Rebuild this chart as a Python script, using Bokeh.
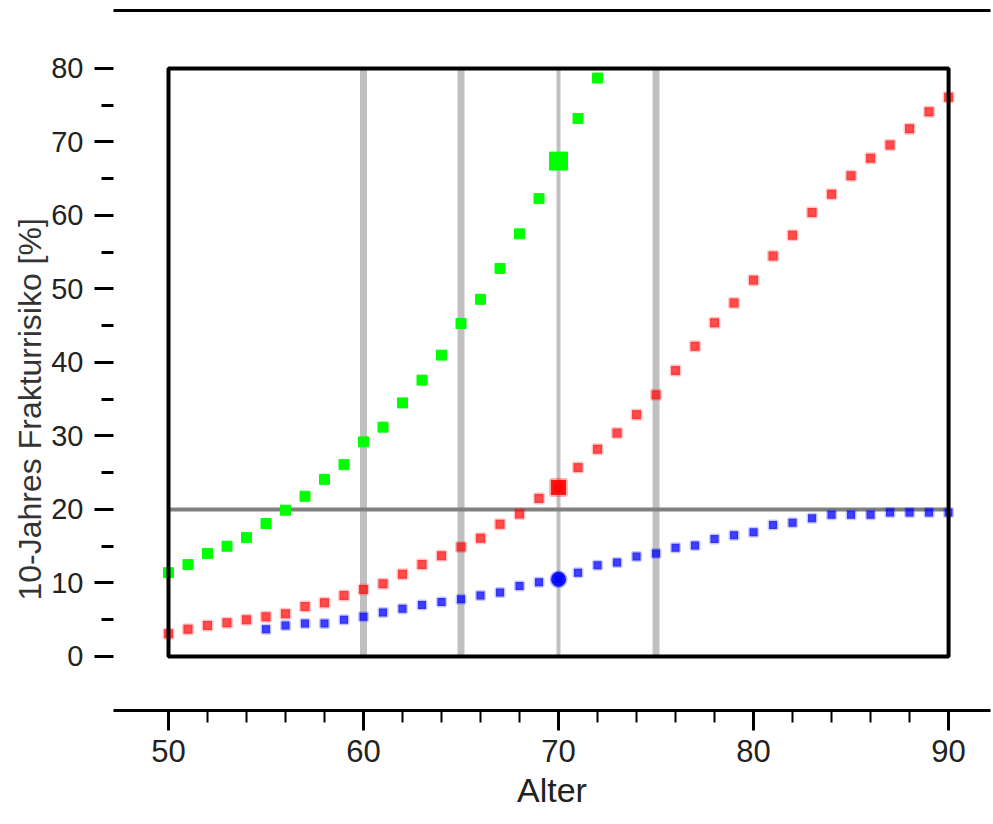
from bokeh.plotting import figure
from bokeh.models import Range1d, LinearAxis, FixedTicker, BoxAnnotation, Title
from bokeh.embed import file_html
from bokeh.resources import INLINE

# ---------------- data ----------------
ages_green = list(range(50, 73))
risk_green = [11.4, 12.5, 14.0, 15.0, 16.2, 18.1, 19.9, 21.8, 24.1, 26.1,
              29.2, 31.2, 34.5, 37.6, 41.0, 45.3, 48.6, 52.8, 57.5, 62.3,
              67.4, 73.2, 78.7]

ages_red = list(range(50, 91))
risk_red = [3.1, 3.7, 4.2, 4.6, 5.0, 5.4, 5.8, 6.8, 7.3, 8.3,
            9.1, 9.9, 11.2, 12.5, 13.7, 14.9, 16.1, 18.0, 19.4, 21.5,
            23.0, 25.7, 28.2, 30.4, 32.9, 35.6, 38.9, 42.2, 45.4, 48.1,
            51.2, 54.5, 57.3, 60.4, 62.9, 65.4, 67.8, 69.6, 71.8, 74.1, 76.1]

ages_blue = list(range(55, 91))
risk_blue = [3.7, 4.2, 4.5, 4.5, 5.0,
             5.4, 6.0, 6.5, 7.0, 7.4, 7.8, 8.3, 8.7, 9.6, 10.1,
             10.5, 11.4, 12.4, 12.8, 13.6, 14.0, 14.8, 15.1, 16.0, 16.5,
             16.9, 17.9, 18.2, 18.8, 19.3, 19.3, 19.3, 19.6, 19.6, 19.6, 19.6]

highlight_age = 70
ref_ages = [60, 65, 70, 75]
ref_widths = [7, 7, 4, 7]
threshold = 20

x_ticks = [50, 60, 70, 80, 90]
x_minor = [a for a in range(52, 90, 2) if a % 10 != 0]
y_ticks = [0, 10, 20, 30, 40, 50, 60, 70, 80]
y_minor = [5, 15, 25, 35, 45, 55, 65, 75]

x_label = "Alter"
y_label = "10-Jahres Frakturrisiko [%]"

# ---------------- figure ----------------
W, H = 992, 822
p = figure(width=W, height=H, output_backend="svg", toolbar_location=None,
           x_range=Range1d(47.18, 92.15), y_range=Range1d(-7.35, 87.89),
           x_axis_type=None, y_axis_type=None,
           min_border_left=113, min_border_right=2,
           min_border_top=10, min_border_bottom=112)
p.outline_line_color = None
p.xgrid.visible = False
p.ygrid.visible = False
p.background_fill_color = "white"
p.border_fill_color = "white"

font = "Liberation Sans"

# left axis
ya = LinearAxis(ticker=FixedTicker(ticks=y_ticks, minor_ticks=y_minor))
ya.axis_line_color = None
ya.major_tick_out = 19
ya.major_tick_in = 0
ya.minor_tick_out = 12
ya.minor_tick_in = 0
ya.major_tick_line_width = 3
ya.minor_tick_line_width = 3
ya.major_tick_line_color = "black"
ya.minor_tick_line_color = "black"
ya.major_label_text_font = font
ya.major_label_text_font_size = "29px"
ya.major_label_text_color = "#222222"
ya.major_label_standoff = 11
p.add_layout(ya, "left")

# y-axis title (as a side title so it can be shifted like the original)
yt = Title(text=y_label, align="left", offset=110, standoff=2,
           text_font=font, text_font_size="32px", text_font_style="normal",
           text_color="#333333")
p.add_layout(yt, "left")

# bottom axis
xa = LinearAxis(ticker=FixedTicker(ticks=x_ticks, minor_ticks=x_minor))
xa.axis_line_width = 3
xa.axis_line_color = "black"
xa.major_tick_out = 20
xa.major_tick_in = 0
xa.minor_tick_out = 12
xa.minor_tick_in = 0
xa.major_tick_line_width = 3
xa.minor_tick_line_width = 2
xa.major_label_text_font = font
xa.major_label_text_font_size = "31px"
xa.major_label_text_color = "#222222"
xa.major_label_standoff = 9
xa.axis_label = x_label
xa.axis_label_text_font = font
xa.axis_label_text_font_style = "normal"
xa.axis_label_text_font_size = "34px"
xa.axis_label_text_color = "#222222"
xa.axis_label_standoff = 6
p.add_layout(xa, "below")

# top line (axis without ticks)
ta = LinearAxis(ticker=FixedTicker(ticks=[]))
ta.axis_line_width = 3
ta.axis_line_color = "black"
ta.major_tick_out = 0
ta.minor_tick_out = 0
ta.major_label_text_font_size = "0px"
p.add_layout(ta, "above")

# reference lines
p.segment(x0=ref_ages, x1=ref_ages, y0=[y_ticks[0]] * len(ref_ages),
          y1=[y_ticks[-1]] * len(ref_ages), line_color="#c0c0c0",
          line_width=ref_widths)
p.segment(x0=[x_ticks[0]], x1=[x_ticks[-1]], y0=[threshold], y1=[threshold],
          line_color="#808080", line_width=4)

# frame box
p.add_layout(BoxAnnotation(left=x_ticks[0], right=x_ticks[-1],
                           bottom=y_ticks[0], top=y_ticks[-1],
                           fill_alpha=0, line_color="black", line_alpha=1.0,
                           line_width=4))

# series
p.scatter(ages_green, risk_green, marker="square", size=10,
          fill_color="#00ff00", line_color="#00ff00", line_width=1)
p.scatter(ages_red, risk_red, marker="square", size=9,
          fill_color="#ff0000", fill_alpha=0.7,
          line_color="#ff0000", line_alpha=0.22, line_width=3)
p.scatter(ages_blue, risk_blue, marker="square", size=8,
          fill_color="#0000ff", fill_alpha=0.75,
          line_color="#0000ff", line_alpha=0.22, line_width=3)

# highlighted points at the reference age
gi = ages_green.index(highlight_age)
ri = ages_red.index(highlight_age)
bi = ages_blue.index(highlight_age)
p.scatter([highlight_age], [risk_green[gi]], marker="square", size=18,
          fill_color="#00ff00", line_color="#00ff00")
p.scatter([highlight_age], [risk_red[ri]], marker="square", size=15,
          fill_color="#ff0000", fill_alpha=0.9,
          line_color="#ff0000", line_alpha=0.3, line_width=4)
p.scatter([highlight_age], [risk_blue[bi]], marker="circle", size=15,
          fill_color="#0000ff", fill_alpha=0.9,
          line_color="#0000ff", line_alpha=0.3, line_width=3)

open("out.html", "w").write(file_html(p, INLINE))
